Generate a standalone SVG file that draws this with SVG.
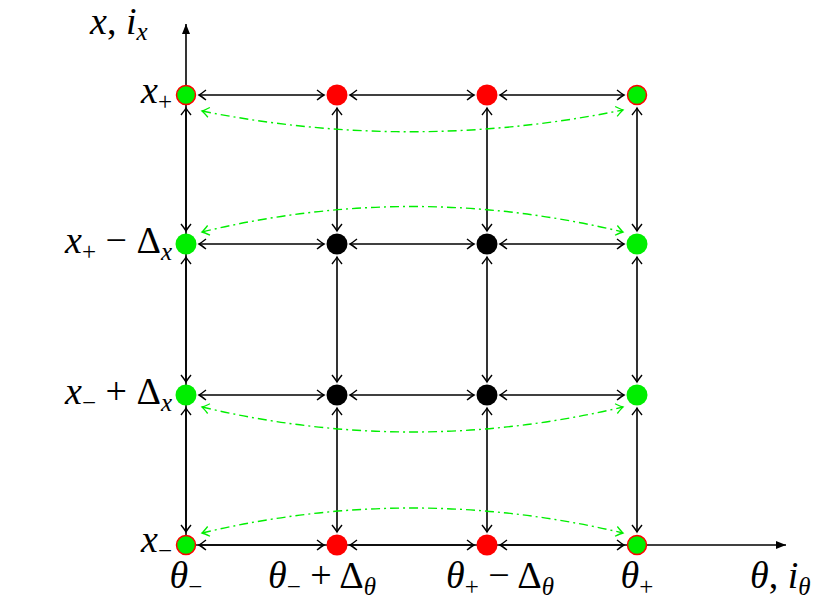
<svg xmlns="http://www.w3.org/2000/svg" width="829" height="612" viewBox="0 0 829 612">
<style>
.l{stroke:#000;stroke-width:1.6;fill:none}
.g{stroke:#00ee00;stroke-width:1.4;fill:none;stroke-dasharray:9 4 2 4}
.t{font-family:"Liberation Serif",serif;font-size:38px}
.i{font-style:italic}
.s{font-size:25px}
</style>
<defs>
<marker id="a" viewBox="-8 -6 10 12" refX="0" refY="0" markerWidth="10" markerHeight="12" markerUnits="userSpaceOnUse" orient="auto-start-reverse"><path d="M-7,-5 Q-2,-1 0,0 Q-2,1 -7,5" fill="none" stroke="#000" stroke-width="1.4"/></marker>
<marker id="ag" viewBox="-8 -6 10 12" refX="0" refY="0" markerWidth="10" markerHeight="12" markerUnits="userSpaceOnUse" orient="auto-start-reverse"><path d="M-7,-5 Q-2,-1 0,0 Q-2,1 -7,5" fill="none" stroke="#00ee00" stroke-width="1.3"/></marker>
<marker id="ax" viewBox="-10 -5 10 10" refX="0" refY="0" markerWidth="10" markerHeight="10" markerUnits="userSpaceOnUse" orient="auto"><path d="M-10,-4 L0,0 L-10,4 Z" fill="#000"/></marker>
</defs>
<g id="axes" class="l">
<line x1="186" y1="545" x2="186" y2="24" marker-end="url(#ax)"/>
<line x1="186" y1="545" x2="786" y2="545" marker-end="url(#ax)"/>
</g>
<g id="connectors">
<g class="l" marker-start="url(#a)" marker-end="url(#a)">
<line x1="199" y1="95" x2="324" y2="95"/><line x1="350" y1="95" x2="474" y2="95"/><line x1="500" y1="95" x2="624" y2="95"/>
<line x1="199" y1="244" x2="324" y2="244"/><line x1="350" y1="244" x2="474" y2="244"/><line x1="500" y1="244" x2="624" y2="244"/>
<line x1="199" y1="395" x2="324" y2="395"/><line x1="350" y1="395" x2="474" y2="395"/><line x1="500" y1="395" x2="624" y2="395"/>
<line x1="199" y1="545" x2="324" y2="545"/><line x1="350" y1="545" x2="474" y2="545"/><line x1="500" y1="545" x2="624" y2="545"/>
<line x1="186" y1="108" x2="186" y2="231"/><line x1="186" y1="257" x2="186" y2="382"/><line x1="186" y1="408" x2="186" y2="532"/>
<line x1="337" y1="108" x2="337" y2="231"/><line x1="337" y1="257" x2="337" y2="382"/><line x1="337" y1="408" x2="337" y2="532"/>
<line x1="487" y1="108" x2="487" y2="231"/><line x1="487" y1="257" x2="487" y2="382"/><line x1="487" y1="408" x2="487" y2="532"/>
<line x1="637" y1="108" x2="637" y2="231"/><line x1="637" y1="257" x2="637" y2="382"/><line x1="637" y1="408" x2="637" y2="532"/>
</g>
<g class="g" marker-start="url(#ag)" marker-end="url(#ag)">
<path d="M202,111 Q412,153 623,110"/>
<path d="M202,232 Q412,181 623,232"/>
<path d="M202,407 Q412,457 623,407"/>
<path d="M202,533 Q412,483 623,533"/>
</g>
</g>
<g id="nodes">
<circle id="n00" cx="186" cy="95" r="9.5" fill="#00ee00" stroke="red" stroke-width="1.5"/>
<circle id="n01" cx="337" cy="95" r="10.5" fill="red"/>
<circle id="n02" cx="487" cy="95" r="10.5" fill="red"/>
<circle id="n03" cx="637" cy="95" r="9.5" fill="#00ee00" stroke="red" stroke-width="1.5"/>
<circle id="n10" cx="186" cy="244" r="10.5" fill="#00ee00"/>
<circle id="n11" cx="337" cy="244" r="10.5" fill="#000"/>
<circle id="n12" cx="487" cy="244" r="10.5" fill="#000"/>
<circle id="n13" cx="637" cy="244" r="10.5" fill="#00ee00"/>
<circle id="n20" cx="186" cy="395" r="10.5" fill="#00ee00"/>
<circle id="n21" cx="337" cy="395" r="10.5" fill="#000"/>
<circle id="n22" cx="487" cy="395" r="10.5" fill="#000"/>
<circle id="n23" cx="637" cy="395" r="10.5" fill="#00ee00"/>
<circle id="n30" cx="186" cy="545" r="9.5" fill="#00ee00" stroke="red" stroke-width="1.5"/>
<circle id="n31" cx="337" cy="545" r="10.5" fill="red"/>
<circle id="n32" cx="487" cy="545" r="10.5" fill="red"/>
<circle id="n33" cx="637" cy="545" r="9.5" fill="#00ee00" stroke="red" stroke-width="1.5"/>
</g>
<g id="labels" class="t">
<text x="90" y="34"><tspan class="i">x</tspan>, <tspan class="i">i</tspan><tspan class="i s" dy="6">x</tspan></text>
<text x="172" y="103" text-anchor="end"><tspan class="i">x</tspan><tspan class="s" dy="7">+</tspan></text>
<text x="172" y="253" text-anchor="end"><tspan class="i">x</tspan><tspan class="s" dy="7">+</tspan><tspan dy="-7"> − Δ</tspan><tspan class="i s" dy="7">x</tspan></text>
<text x="172" y="404" text-anchor="end"><tspan class="i">x</tspan><tspan class="s" dy="7">−</tspan><tspan dy="-7"> + Δ</tspan><tspan class="i s" dy="7">x</tspan></text>
<text x="172" y="552" text-anchor="end"><tspan class="i">x</tspan><tspan class="s" dy="7">−</tspan></text>
<text x="186" y="588" text-anchor="middle"><tspan class="i">θ</tspan><tspan class="s" dy="7">−</tspan></text>
<text x="322" y="588" text-anchor="middle"><tspan class="i">θ</tspan><tspan class="s" dy="7">−</tspan><tspan dy="-7"> + Δ</tspan><tspan class="i s" dy="7">θ</tspan></text>
<text x="500" y="588" text-anchor="middle"><tspan class="i">θ</tspan><tspan class="s" dy="7">+</tspan><tspan dy="-7"> − Δ</tspan><tspan class="i s" dy="7">θ</tspan></text>
<text x="637" y="588" text-anchor="middle"><tspan class="i">θ</tspan><tspan class="s" dy="7">+</tspan></text>
<text x="750" y="588"><tspan class="i">θ</tspan>, <tspan class="i">i</tspan><tspan class="i s" dy="7">θ</tspan></text>
</g>
</svg>
